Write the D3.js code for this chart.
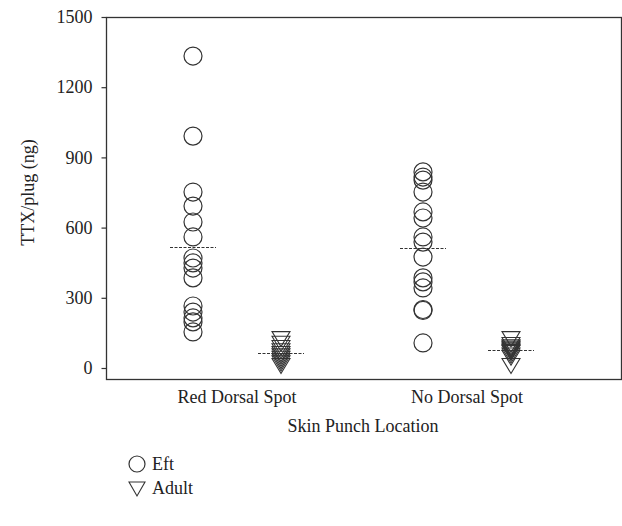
<!DOCTYPE html>
<html>
<head>
<meta charset="utf-8">
<script src="https://cdn.jsdelivr.net/npm/d3@7"></script>
<style>
  html, body { margin: 0; padding: 0; background: #fff; }
  svg { display: block; }
  svg text { font-family: "Liberation Serif", "DejaVu Serif", serif; }
</style>
</head>
<body>
<svg id="chart"></svg>
<script>
// ─── Data ──────────────────────────────────────────────────────────────────
const categories = ["Red Dorsal Spot", "No Dorsal Spot"];
const stages = ["Eft", "Adult"];

const eftRed = [1333, 991, 752, 692, 624, 560, 470, 449, 427, 385, 265, 239, 214, 197, 154];
const adultRed = [130, 110, 92, 78, 66, 56, 46, 36, 26, 15];
const eftNone = [838, 816, 803, 752, 667, 641, 560, 538, 474, 385, 368, 342, 250, 246, 107];
const adultNone = [130, 105, 95, 90, 85, 80, 75, 70, 60, 50, 15];

// mean lines
const meanRed = [517, 64];
const meanNone = [512, 76];

const yTicks = [0, 300, 600, 900, 1200, 1500];

// ─── Layout ────────────────────────────────────────────────────────────────
const W = 622, H = 526;
const FRAME = { left: 106, right: 621, top: 17, bottom: 379 };
const STROKE = "#333";
const TEXT = "#222";
const FONT = 18;

const svg = d3.select("#chart").attr("width", W).attr("height", H);

const y = d3.scaleLinear().domain([0, 1500]).range([368, 17]);
const xCat = d3.scalePoint().domain(categories).range([237, 467]);
const xStage = d3.scalePoint().domain(stages).range([-44, 44]);

const triPath = "M-9,-6L9,-6L0,9Z";

// ─── Frame ─────────────────────────────────────────────────────────────────
svg.append("rect")
  .attr("x", FRAME.left + 0.5).attr("y", FRAME.top + 0.5)
  .attr("width", FRAME.right - FRAME.left).attr("height", FRAME.bottom - FRAME.top)
  .attr("fill", "none").attr("stroke", STROKE).attr("stroke-width", 1.3);

// ─── Y axis ────────────────────────────────────────────────────────────────
const yAxis = svg.append("g")
  .attr("transform", `translate(${FRAME.left + 0.5},0)`)
  .call(d3.axisLeft(y).tickValues(yTicks).tickSize(5).tickPadding(9).tickFormat(d3.format("d")))
  .attr("font-family", "Liberation Serif, DejaVu Serif, serif")
  .attr("font-size", FONT);
yAxis.select(".domain").remove();
yAxis.selectAll(".tick line").attr("stroke", STROKE).attr("stroke-width", 1.2);
yAxis.selectAll(".tick text").attr("fill", TEXT);

svg.append("text")
  .attr("transform", `translate(28,${(FRAME.top + 368) / 2}) rotate(-90)`)
  .attr("text-anchor", "middle").attr("dy", "0.35em")
  .attr("font-size", FONT).attr("fill", TEXT)
  .text("TTX/plug (ng)");

// ─── X labels ──────────────────────────────────────────────────────────────
svg.append("g").selectAll("text")
  .data(categories).join("text")
  .attr("x", d => xCat(d)).attr("y", 403)
  .attr("text-anchor", "middle")
  .attr("font-size", FONT).attr("fill", TEXT)
  .text(d => d);

svg.append("text")
  .attr("x", 363).attr("y", 432)
  .attr("text-anchor", "middle")
  .attr("font-size", FONT).attr("fill", TEXT)
  .text("Skin Punch Location");

// ─── Points ────────────────────────────────────────────────────────────────
const groups = [
  { cat: categories[0], stage: "Eft", values: eftRed, mean: meanRed[0] },
  { cat: categories[0], stage: "Adult", values: adultRed, mean: meanRed[1] },
  { cat: categories[1], stage: "Eft", values: eftNone, mean: meanNone[0] },
  { cat: categories[1], stage: "Adult", values: adultNone, mean: meanNone[1] },
];

const plot = svg.append("g");

groups.forEach(g => {
  const cx = xCat(g.cat) + xStage(g.stage);
  const sel = plot.append("g");
  if (g.stage === "Eft") {
    sel.selectAll("circle").data(g.values).join("circle")
      .attr("cx", cx).attr("cy", d => y(d)).attr("r", 9)
      .attr("fill", "none").attr("stroke", STROKE).attr("stroke-width", 1.2);
  } else {
    sel.selectAll("path").data(g.values).join("path")
      .attr("transform", d => `translate(${cx},${y(d)})`)
      .attr("d", triPath)
      .attr("fill", "none").attr("stroke", STROKE).attr("stroke-width", 1.1);
  }
  // mean line
  plot.append("line")
    .attr("x1", cx - 23).attr("x2", cx + 23)
    .attr("y1", Math.round(y(g.mean)) + 0.5).attr("y2", Math.round(y(g.mean)) + 0.5)
    .attr("stroke", STROKE).attr("stroke-width", 1)
    .attr("stroke-dasharray", "3,1.5");
});

// ─── Legend ────────────────────────────────────────────────────────────────
const legend = svg.append("g").attr("transform", "translate(137,464)");
stages.forEach((s, i) => {
  const row = legend.append("g").attr("transform", `translate(0,${i * 24})`);
  if (s === "Eft") {
    row.append("circle").attr("r", 8)
      .attr("fill", "none").attr("stroke", STROKE).attr("stroke-width", 1.2);
  } else {
    row.append("path").attr("d", "M-8,-6L8,-6L0,8Z")
      .attr("fill", "none").attr("stroke", STROKE).attr("stroke-width", 1.1);
  }
  row.append("text").attr("x", 15).attr("dy", "0.35em")
    .attr("font-size", FONT).attr("fill", TEXT)
    .text(s);
});
</script>
</body>
</html>
